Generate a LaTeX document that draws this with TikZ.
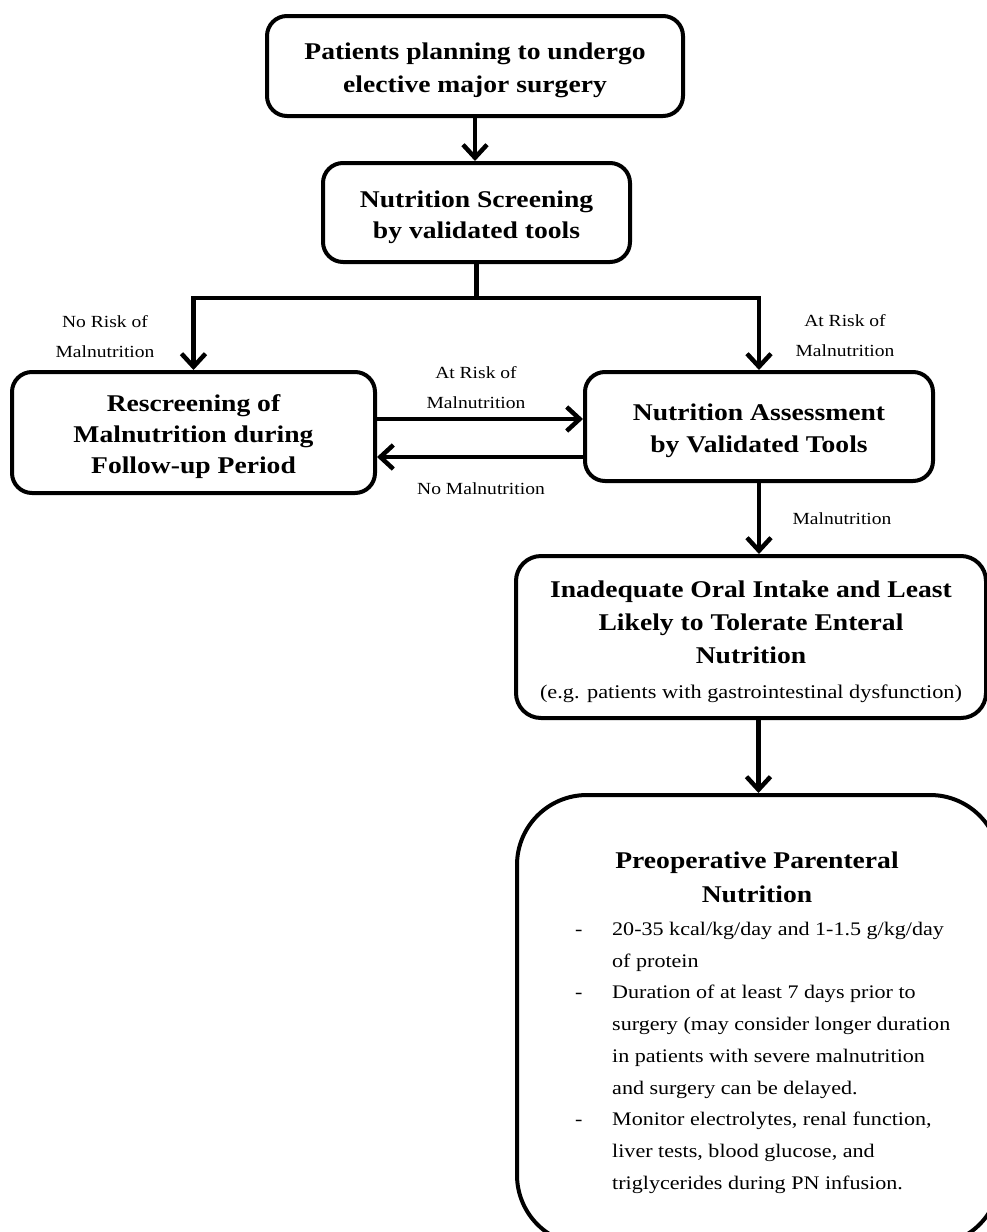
\documentclass[tikz,border=0pt]{standalone}
\usepackage{fontspec}
\setmainfont{Liberation Serif}[FakeStretch=1.15]
\usetikzlibrary{arrows.meta}
\newcommand{\topstrut}{\rule{0pt}{26pt}}
\begin{document}
\begin{tikzpicture}[x=1pt,y=-1pt,
  box/.style={draw, line width=4pt, rounded corners=20pt, align=center, inner sep=0pt,
    font=\bfseries\fontsize{24}{31}\selectfont},
  arr/.style={line width=4.5pt, -{Straight Barb[length=13pt,width=24pt]}},
  lbl/.style={inner sep=0pt, align=center, font=\fontsize{17}{30}\selectfont}]
\useasboundingbox (0,0) rectangle (987,1232);
\clip (0,0) rectangle (987,1232);
\fill[white] (0,0) rectangle (987,1232);

% boxes
\node[box, minimum width=416, minimum height=100, font=\bfseries\fontsize{24}{33}\selectfont] (b1) at (475,66) {\topstrut Patients planning to undergo\\elective major surgery};
\node[box, minimum width=307, minimum height=99] (b2) at (476.5,212.5) {\topstrut Nutrition Screening\\by validated tools};
\node[box, minimum width=363, minimum height=121] (b3) at (193.5,432.5) {\topstrut Rescreening of\\Malnutrition during\\Follow-up Period};
\node[box, minimum width=348, minimum height=109, font=\bfseries\fontsize{24}{32}\selectfont] (b4) at (759,426.5) {\topstrut Nutrition Assessment\\by Validated Tools};
\node[box, minimum width=470, minimum height=162, rounded corners=25pt, font=\bfseries\fontsize{24}{33}\selectfont] (b5) at (751,637) {\topstrut Inadequate Oral Intake and Least\\Likely to Tolerate Enteral\\Nutrition\\[2pt]{\mdseries\fontsize{19.4}{24}\selectfont (e.g. patients with gastrointestinal dysfunction)}};
\node[box, minimum width=483, minimum height=450, rounded corners=70pt] (b6) at (758.5,1020) {};

% text inside the last box
\node[inner sep=0pt, align=center, font=\bfseries\fontsize{24}{34}\selectfont] (t6) at (757,877) {Preoperative Parenteral\\Nutrition};
\node[inner sep=0pt, anchor=north west, align=left, font=\fontsize{19.2}{31.7}\selectfont] (l6) at (575,922) {%
\makebox[37pt][l]{-}20-35 kcal/kg/day and 1-1.5 g/kg/day\\
\hspace*{37pt}of protein\\
\makebox[37pt][l]{-}Duration of at least 7 days prior to\\
\hspace*{37pt}surgery (may consider longer duration\\
\hspace*{37pt}in patients with severe malnutrition\\
\hspace*{37pt}and surgery can be delayed.\\
\makebox[37pt][l]{-}Monitor electrolytes, renal function,\\
\hspace*{37pt}liver tests, blood glucose, and\\
\hspace*{37pt}triglycerides during PN infusion.};

% connectors
\coordinate (yA) at (0,419);
\coordinate (yB) at (0,457);
\draw[arr] (b1.south) -- (b1.south |- b2.north);
\draw[arr] (b2.south) -- ++(0,34) -| (b3.north);
\draw[arr] (b2.south) -- ++(0,34) -| (b4.north);
\draw[arr] (b3.east |- yA) -- (b4.west |- yA);
\draw[arr] (b4.west |- yB) -- (b3.east |- yB);
\draw[arr] (b4.south) -- (b4.south |- b5.north);
\draw[arr] (b6.north |- b5.south) -- (b6.north);

% labels
\node[lbl] (n1) at (105,337) {No Risk of\\Malnutrition};
\node[lbl] (n2) at (845,336) {At Risk of\\Malnutrition};
\node[lbl] (n3) at (476,388) {At Risk of\\Malnutrition};
\node[lbl] (n4) at (481,489) {No Malnutrition};
\node[lbl] (n5) at (842,519) {Malnutrition};
\end{tikzpicture}
\end{document}
